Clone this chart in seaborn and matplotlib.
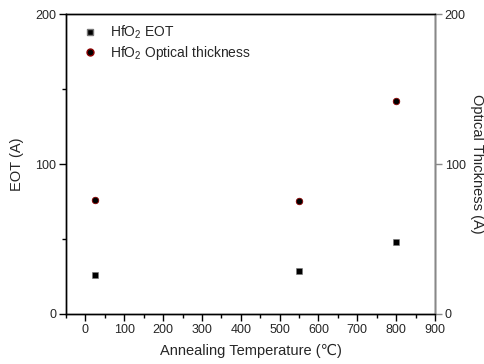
import matplotlib
matplotlib.use("Agg")
import matplotlib.pyplot as plt
from matplotlib.ticker import MultipleLocator
from matplotlib.lines import Line2D
import seaborn as sns
import pandas as pd

temps = [25, 550, 800]
eot = [26, 28.5, 48]
optical = [76, 75, 142]

sns.set_style("ticks")
plt.rcParams['font.family'] = ['Liberation Sans', 'DejaVu Sans']
plt.rcParams['mathtext.fontset'] = 'custom'
plt.rcParams['mathtext.rm'] = 'Liberation Sans'
plt.rcParams['mathtext.it'] = 'Liberation Sans'

df = pd.DataFrame({"T": temps, "EOT": eot, "OPT": optical})

fig = plt.figure(figsize=(4.85, 3.64), dpi=100)
ax = fig.add_axes([0.136, 0.1374, 0.761, 0.8241])
ax2 = ax.twinx()

sns.scatterplot(data=df, x="T", y="EOT", ax=ax, marker="s", s=20, color="black",
                edgecolor="#777777", linewidth=0.4, legend=False, zorder=3)
sns.scatterplot(data=df, x="T", y="OPT", ax=ax2, marker="o", s=22, color="black",
                edgecolor="#8b0000", linewidth=0.6, legend=False, zorder=3)

ax.set_xlim(-50, 900)
ax.set_ylim(0, 200)
ax2.set_ylim(0, 200)

ax.xaxis.set_major_locator(MultipleLocator(100))
ax.xaxis.set_minor_locator(MultipleLocator(50))
ax.yaxis.set_major_locator(MultipleLocator(100))
ax.yaxis.set_minor_locator(MultipleLocator(50))
ax2.yaxis.set_major_locator(MultipleLocator(100))
ax2.yaxis.set_minor_locator(MultipleLocator(200))

for a in (ax, ax2):
    for s in a.spines.values():
        s.set_linewidth(1.0)
        s.set_color("black")
ax2.spines["right"].set_color("#888888")

ax.tick_params(axis="both", which="major", direction="out", length=5, width=1,
               labelsize=9, color="black", pad=2)
ax.tick_params(axis="both", which="minor", direction="out", length=3, width=1, color="black")
ax.tick_params(axis="x", top=False, which="both")
ax2.tick_params(axis="y", which="major", direction="out", length=5, width=1,
                labelsize=9, color="#888888", pad=2)
ax2.tick_params(axis="y", which="minor", length=0)

ax.set_xlabel("Annealing Temperature (℃)", fontsize=10.5, labelpad=6)
ax.set_ylabel("EOT (A)", fontsize=10.5, labelpad=8)
ax2.set_ylabel("Optical Thickness (A)", fontsize=10.5, rotation=270, labelpad=13)

handles = [
    Line2D([], [], linestyle="none", marker="s", markersize=4.5, color="black",
           markeredgecolor="#777777", label="HfO$_2$ EOT"),
    Line2D([], [], linestyle="none", marker="o", markersize=5, color="black",
           markeredgecolor="#8b0000", label="HfO$_2$ Optical thickness"),
]
ax.legend(handles=handles, loc="upper left", frameon=False, fontsize=10,
          handletextpad=0.5, borderaxespad=0.3, labelspacing=0.2,
          bbox_to_anchor=(0.0, 1.0))

fig.savefig("out.png", dpi=100)
